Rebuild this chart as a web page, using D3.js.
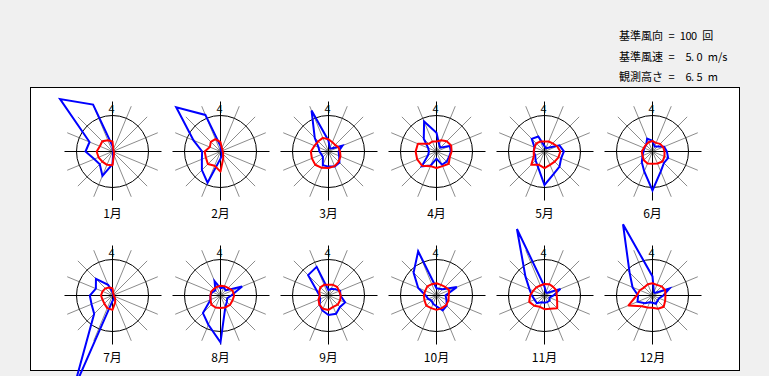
<!DOCTYPE html>
<html><head><meta charset="utf-8">
<script src="https://cdn.jsdelivr.net/npm/d3@7/dist/d3.min.js"></script>
<style>body{margin:0;background:#f0f0f0;overflow:hidden} svg{display:block}</style>
</head><body>
<svg id="c" width="769" height="376"></svg>
<script>
const months = ["1月","2月","3月","4月","5月","6月","7月","8月","9月","10月","11月","12月"];
const directions = ["N","NNE","NE","ENE","E","ESE","SE","SSE","S","SSW","SW","WSW","W","WNW","NW","NNW"];
const infoLabels = ["基準風向 = 100 回","基準風速 =  5.0 m/s","観測高さ =  6.5 m"];
const refCount = 100, refSpeed = 5.0;
// frequency (回) per direction, per month
const freq = [
  [15, 3, 2, 2, 2, 2, 3, 5, 35, 73, 50, 55, 75, 69, 206, 141],
  [15, 3, 3, 3, 3, 3, 5, 10, 20, 94, 73, 56, 51, 81, 174, 110],
  [30, 10, 12, 42, 28, 32, 43, 45, 42, 41, 22, 21, 25, 30, 54, 123],
  [52, 20, 15, 40, 40, 38, 40, 40, 20, 42, 58, 25, 21, 25, 50, 90],
  [15, 10, 15, 45, 54, 50, 59, 67, 93, 47, 35, 28, 30, 30, 50, 45],
  [30, 15, 20, 35, 40, 47, 45, 60, 108, 60, 42, 30, 25, 25, 25, 39],
  [10, 5, 3, 2, 2, 3, 5, 10, 15, 286, 72, 63, 63, 50, 65, 32],
  [20, 25, 20, 65, 30, 20, 25, 35, 130, 88, 69, 30, 28, 25, 20, 43],
  [15, 20, 25, 35, 33, 50, 45, 55, 54, 45, 35, 25, 25, 35, 80, 86],
  [20, 20, 25, 61, 25, 30, 40, 45, 30, 25, 20, 25, 30, 55, 90, 133],
  [25, 10, 10, 48, 25, 15, 20, 20, 20, 20, 30, 30, 35, 45, 75, 200],
  [53, 10, 10, 51, 30, 20, 20, 25, 20, 20, 30, 45, 40, 60, 90, 214]
];
// mean wind speed (m/s) per direction, per month
const speed = [
  [1.4, 0.3, 0.2, 0.2, 0.2, 0.2, 0.3, 0.5, 1.9, 2.0, 2.0, 2.1, 2.2, 1.9, 2.0, 1.7],
  [1.3, 0.5, 0.4, 0.3, 0.3, 0.4, 0.5, 1.0, 2.8, 2.15, 2.47, 2.2, 2.2, 1.6, 1.9, 1.86],
  [1.7, 1.4, 1.3, 1.5, 1.6, 1.8, 2.0, 2.2, 2.3, 2.45, 2.6, 2.5, 2.45, 2.1, 2.0, 2.05],
  [1.4, 1.7, 2.0, 2.2, 2.1, 2.0, 2.4, 2.2, 2.3, 2.2, 2.8, 2.9, 2.9, 2.8, 1.5, 1.5],
  [1.4, 1.5, 1.6, 1.9, 2.2, 2.1, 2.0, 2.0, 2.3, 2.0, 2.6, 1.6, 1.5, 1.5, 1.6, 1.5],
  [1.45, 1.3, 1.5, 1.6, 1.67, 1.8, 1.97, 1.8, 1.7, 1.8, 1.7, 1.5, 1.5, 1.3, 1.3, 1.4],
  [1.0, 0.3, 0.2, 0.2, 0.2, 0.2, 0.5, 1.0, 2.0, 1.9, 1.6, 1.5, 1.6, 1.5, 1.4, 1.2],
  [1.35, 1.4, 1.5, 1.8, 1.9, 1.8, 1.85, 1.8, 1.75, 1.8, 1.8, 1.5, 1.4, 1.4, 1.3, 1.3],
  [1.5, 1.6, 1.7, 1.6, 1.7, 1.75, 1.8, 1.7, 2.0, 2.0, 1.8, 1.5, 1.2, 1.4, 1.6, 1.6],
  [1.7, 1.6, 1.7, 1.9, 1.7, 1.8, 1.9, 1.9, 2.0, 1.9, 2.0, 1.8, 1.76, 1.7, 1.8, 1.7],
  [1.6, 1.7, 1.7, 1.8, 1.7, 1.9, 2.5, 2.0, 1.9, 1.7, 2.0, 2.3, 2.0, 1.7, 1.6, 1.5],
  [1.7, 1.6, 1.8, 1.9, 1.8, 1.9, 2.2, 2.0, 1.7, 1.8, 2.1, 3.6, 2.2, 1.9, 1.6, 1.7]
];

const svg = d3.select("#c");
const FONT = "'Noto Sans CJK JP','DejaVu Sans',sans-serif";

// info text, laid out on a fixed-pitch grid (full-width 11px, half-width 5.6px);
// the trailing unit word flows naturally after its first letter
function charPositions(s, x0) {
  const chars = Array.from(s);
  const stop = s.lastIndexOf(" ") + 1;
  const xs = []; let x = x0;
  chars.forEach((ch, i) => {
    if (i <= stop) xs.push(x.toFixed(1));
    x += ch.charCodeAt(0) > 0x2000 ? 11 : 5.6;
  });
  return xs.join(" ");
}
svg.selectAll("text.info").data(infoLabels).enter().append("text")
  .attr("class", "info")
  .attr("x", d => charPositions(d, 619)).attr("y", (d,i) => 40 + i*20.5)
  .attr("font-family", FONT).attr("font-size", 11).attr("fill", "#000")
  .text(d => d.replace(/ /g, "\u00a0"));

// frame
svg.append("rect").attr("x", 30.5).attr("y", 87.5).attr("width", 709).attr("height", 283)
  .attr("fill", "#fff").attr("stroke", "#000").attr("stroke-width", 1);

const R = 36;
const rCount = d3.scaleLinear().domain([0, refCount]).range([0, R]);
const rSpeed = d3.scaleLinear().domain([0, refSpeed]).range([0, R]);
const angle = d3.scalePoint().domain(directions).range([0, 2*Math.PI*15/16]);
const colX = d3.scaleLinear().domain([0, 5]).range([112.5, 652.5]);
const rowY = d3.scaleLinear().domain([0, 1]).range([151.5, 295.5]);

const radial = d3.lineRadial().curve(d3.curveLinearClosed);

months.forEach((m, k) => {
  const cx = colX(k % 6), cy = rowY(Math.floor(k / 6));
  const g = svg.append("g").attr("transform", `translate(${cx},${cy})`);
  // gray spokes
  directions.forEach((d, i) => {
    if (i % 4 === 0) return;
    const a = angle(d);
    g.append("line").attr("x1", 0).attr("y1", 0)
      .attr("x2", 49*Math.sin(a)).attr("y2", -49*Math.cos(a))
      .attr("stroke", "#8c8c8c").attr("stroke-width", 1);
  });
  g.append("circle").attr("r", 3).attr("fill", "#8c8c8c");
  // reference circle
  g.append("circle").attr("r", R).attr("fill", "none").attr("stroke", "#000").attr("stroke-width", 1);
  // axes
  g.append("line").attr("x1", -48).attr("x2", 49).attr("y1", 0).attr("y2", 0).attr("stroke", "#000");
  g.append("line").attr("x1", 0).attr("x2", 0).attr("y1", -50).attr("y2", 49).attr("stroke", "#000");
  // N label
  g.append("text").attr("x", -1).attr("y", -39).attr("text-anchor", "middle")
    .attr("font-family", FONT).attr("font-size", 11).text("4");
  // month label
  g.append("text").attr("x", 0).attr("y", 66).attr("text-anchor", "middle")
    .attr("font-family", FONT).attr("font-size", 12).text(m);
  // frequency polygon
  g.append("path")
    .datum(directions.map((d, i) => [angle(d), rCount(freq[k][i])]))
    .attr("d", radial).attr("fill", "none").attr("stroke", "#0000ff").attr("stroke-width", 2)
    .attr("stroke-linejoin", "miter");
  // speed polygon
  g.append("path")
    .datum(directions.map((d, i) => [angle(d), rSpeed(speed[k][i])]))
    .attr("d", radial).attr("fill", "none").attr("stroke", "#ff0000").attr("stroke-width", 2)
    .attr("stroke-linejoin", "round");
});
</script>
</body></html>
